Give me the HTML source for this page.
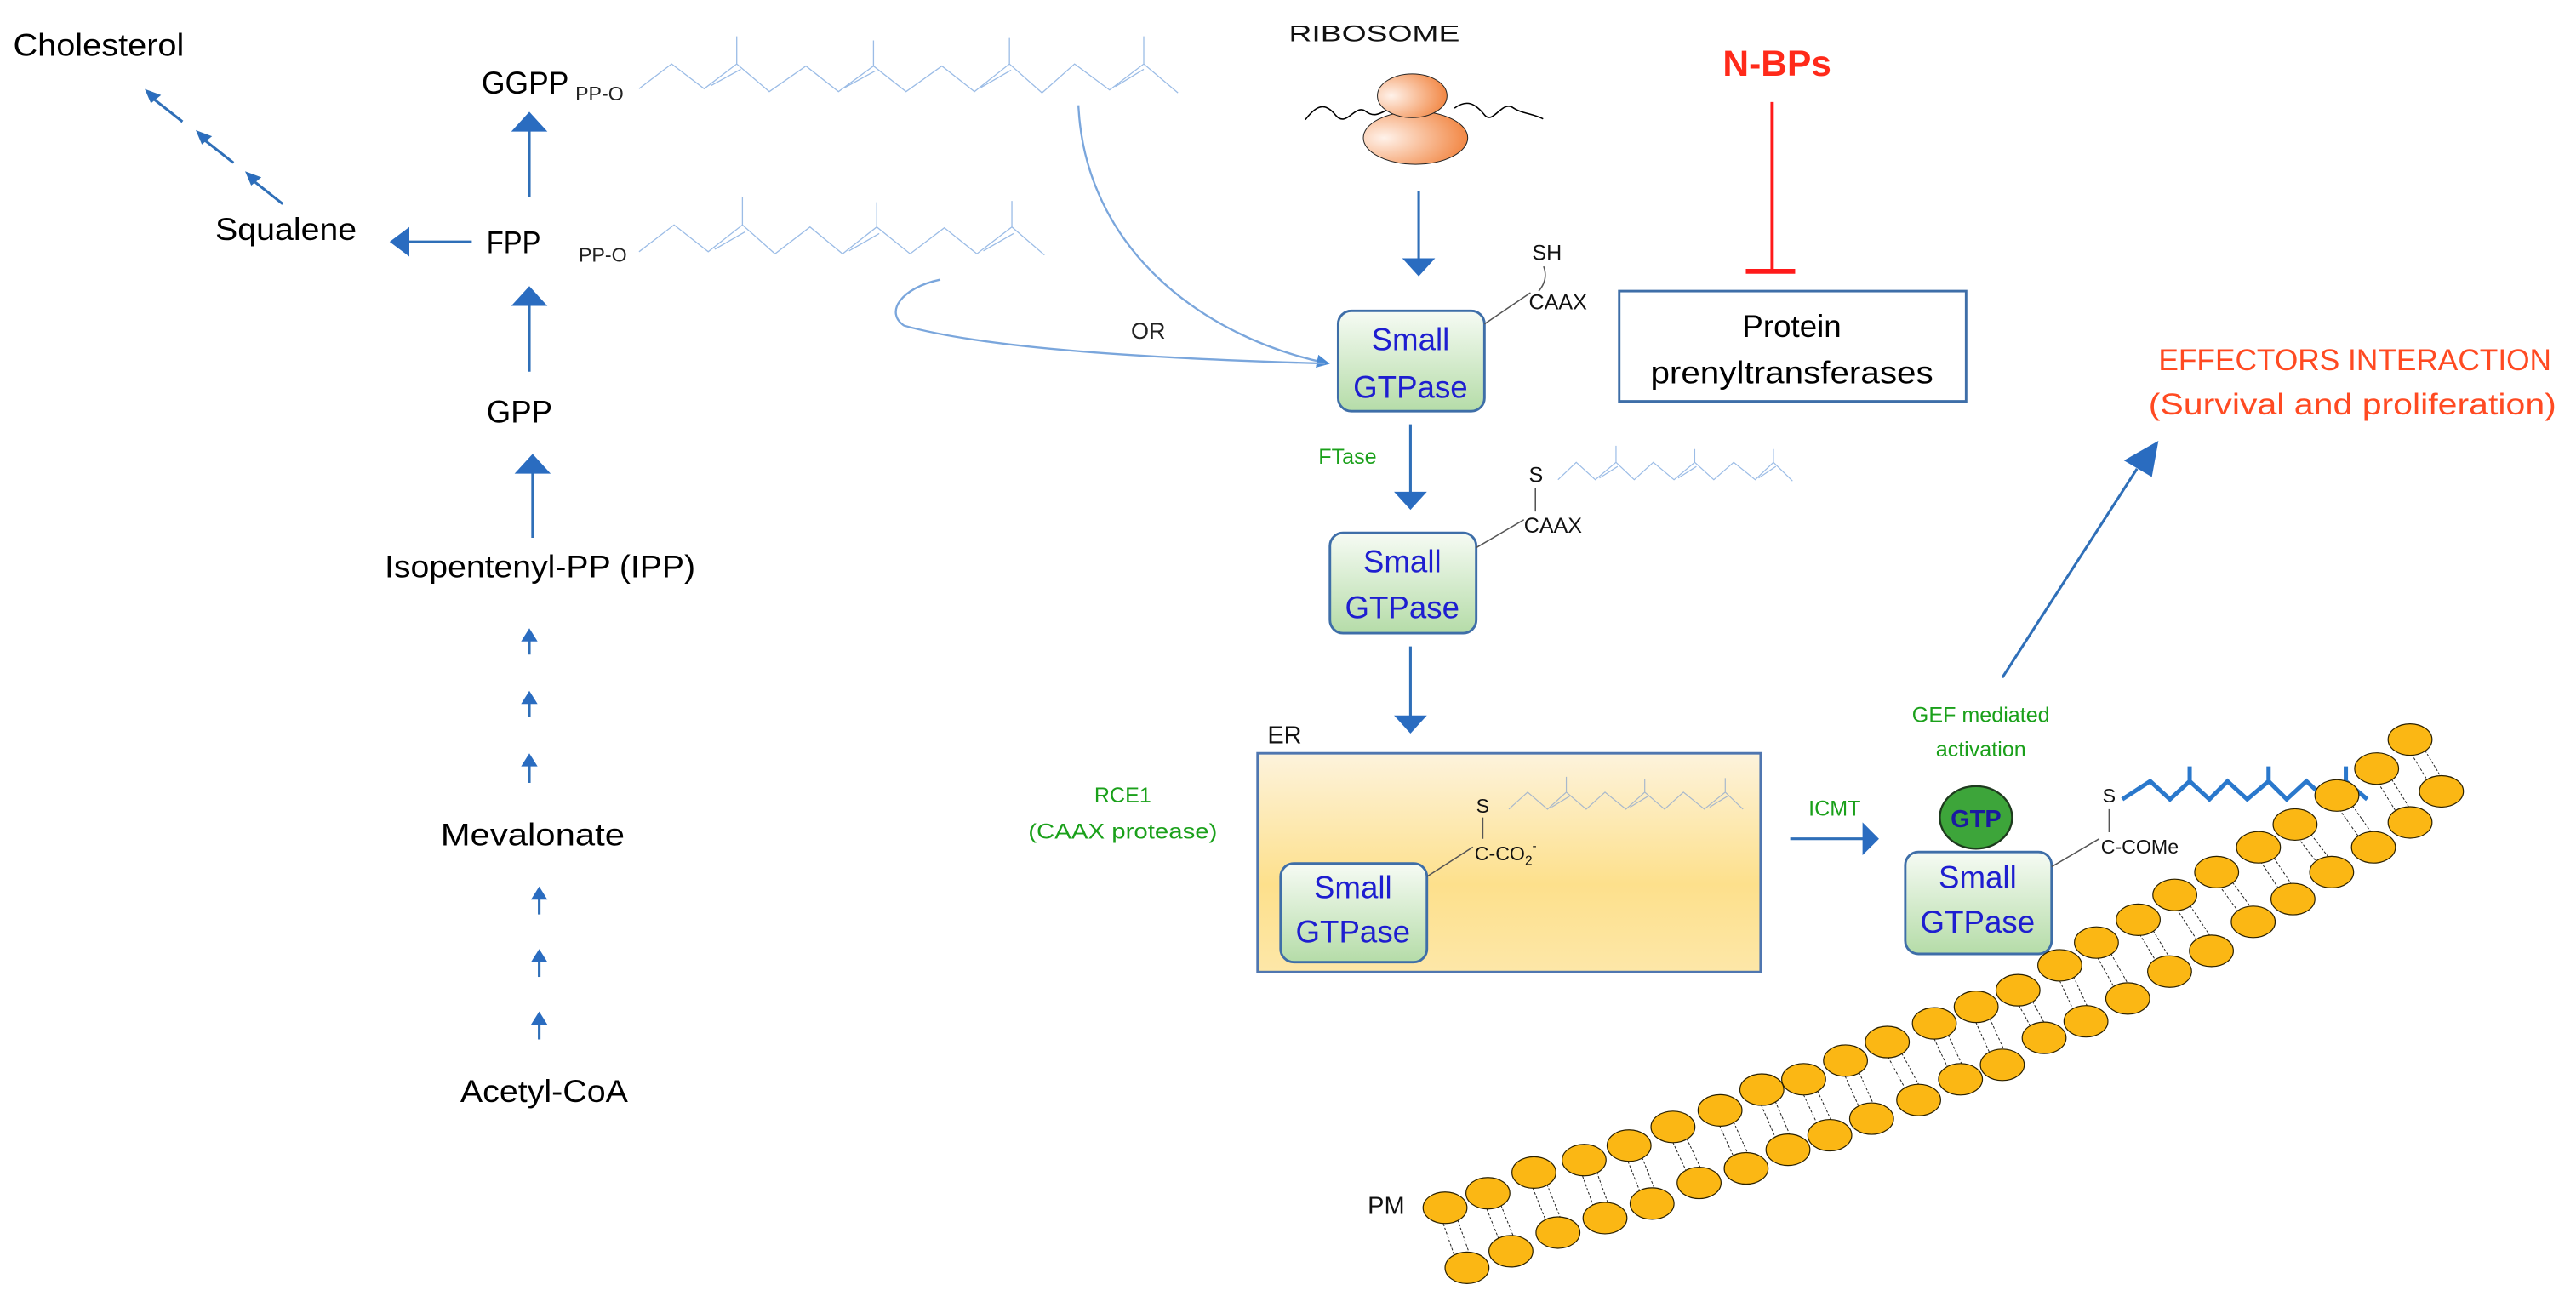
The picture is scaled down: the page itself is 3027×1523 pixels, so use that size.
<!DOCTYPE html>
<html><head><meta charset="utf-8"><style>
html,body{margin:0;padding:0;background:#fff;}
svg{display:block;}
text{font-family:"Liberation Sans Narrow","Liberation Sans",sans-serif;}
</style></head><body>
<svg width="3027" height="1523" viewBox="0 0 1567 788" preserveAspectRatio="none" xmlns="http://www.w3.org/2000/svg">
<defs>
<linearGradient id="gg" x1="0" y1="0" x2="0" y2="1"><stop offset="0" stop-color="#f6fbf4"/><stop offset="1" stop-color="#b5dca8"/></linearGradient>
<linearGradient id="er" x1="0" y1="0" x2="0" y2="1"><stop offset="0" stop-color="#fdf3dc"/><stop offset="0.6" stop-color="#fde08c"/><stop offset="1" stop-color="#fde7a8"/></linearGradient>
<radialGradient id="rib" cx="0.2" cy="0.5" r="0.9"><stop offset="0" stop-color="#fff2ea"/><stop offset="1" stop-color="#f07a30"/></radialGradient>
<marker id="ah" markerWidth="8" markerHeight="8" refX="7" refY="4" orient="auto" markerUnits="userSpaceOnUse"><path d="M0,0 L8,4 L0,8 Z" fill="#4a8ad4"/></marker>
</defs>

<!-- Left pathway -->
<g fill="#000" font-size="19">
<text x="8" y="34" textLength="104" lengthAdjust="spacingAndGlyphs">Cholesterol</text>
<text x="131" y="146" textLength="86" lengthAdjust="spacingAndGlyphs">Squalene</text>
<text x="296" y="154" textLength="33" lengthAdjust="spacingAndGlyphs">FPP</text>
<text x="293" y="57" textLength="53" lengthAdjust="spacingAndGlyphs">GGPP</text>
<text x="296" y="257" textLength="40" lengthAdjust="spacingAndGlyphs">GPP</text>
<text x="234" y="351" textLength="189" lengthAdjust="spacingAndGlyphs">Isopentenyl-PP (IPP)</text>
<text x="268" y="514" textLength="112" lengthAdjust="spacingAndGlyphs">Mevalonate</text>
<text x="280" y="670" textLength="102" lengthAdjust="spacingAndGlyphs">Acetyl-CoA</text>
</g>
<g font-size="12" fill="#222">
<text x="350" y="61">PP-O</text>
<text x="352" y="159">PP-O</text>
</g>
<g stroke="#2f6fb8" stroke-width="1.6" fill="#2a6cc0">
<line x1="111" y1="74" x2="92" y2="59"/><path d="M89,55 L97,58 L92,62 Z" stroke-width="1"/>
<line x1="142" y1="99" x2="123" y2="84"/><path d="M120,80 L128,83 L123,87 Z" stroke-width="1"/>
<line x1="172" y1="124" x2="153" y2="109"/><path d="M150,105 L158,108 L153,112 Z" stroke-width="1"/>
<line x1="287" y1="147" x2="248" y2="147"/><path d="M237,147 L249,138 L249,156 Z" stroke="none"/>
<line x1="322" y1="120" x2="322" y2="78"/><path d="M322,68 L311,80 L333,80 Z" stroke="none"/>
<line x1="322" y1="226" x2="322" y2="184"/><path d="M322,174 L311,186 L333,186 Z" stroke="none"/>
<line x1="324" y1="327" x2="324" y2="286"/><path d="M324,276 L313,288 L335,288 Z" stroke="none"/>
<line x1="322" y1="398" x2="322" y2="388"/><path d="M322,382 L317,390 L327,390 Z" stroke="none"/>
<line x1="322" y1="436" x2="322" y2="426"/><path d="M322,420 L317,428 L327,428 Z" stroke="none"/>
<line x1="322" y1="476" x2="322" y2="464"/><path d="M322,458 L317,466 L327,466 Z" stroke="none"/>
<line x1="328" y1="556" x2="328" y2="545"/><path d="M328,539 L323,547 L333,547 Z" stroke="none"/>
<line x1="328" y1="594" x2="328" y2="583"/><path d="M328,577 L323,585 L333,585 Z" stroke="none"/>
<line x1="328" y1="632" x2="328" y2="621"/><path d="M328,615 L323,623 L333,623 Z" stroke="none"/>
</g>

<!-- chains in zoom1 coords -->
<g transform="scale(0.4952,0.2509)" fill="none" stroke="#9bbce6">
<path vector-effect="non-scaling-stroke" stroke-width="1.3" d="M785,215 L825,155 L865,215 L905,155 L945,222 L990,160 L1030,222 L1073,160 L1113,222 L1157,160 L1197,222 L1240,155 L1280,225 L1320,155 L1363,218 L1405,155 L1447,225 M905,155 L905,88 M1073,160 L1073,98 M1240,155 L1240,92 M1405,155 L1405,88 M873,208 L910,168 M1038,212 L1075,172 M1205,212 L1242,170 M1370,210 L1405,168"/>
<path vector-effect="non-scaling-stroke" stroke-width="1.3" d="M785,610 L828,545 L870,610 L912,545 L952,615 L995,550 L1035,615 L1077,550 L1118,615 L1160,552 L1200,615 L1243,550 L1283,618 M912,545 L912,478 M1077,550 L1077,490 M1243,550 L1243,487 M878,604 L915,562 M1043,608 L1080,566 M1208,608 L1245,566"/>
</g>
<g fill="none" stroke="#7aa6dc" stroke-width="1.2">
<path d="M656,64 C660,150 730,205 808,221" marker-end="url(#ah)"/>
<path d="M572,170 C548,175 538,190 550,198 C600,212 700,218 806,221"/>
</g>
<text x="688" y="206" font-size="14" fill="#222">OR</text>

<!-- Ribosome -->
<text x="784" y="25" font-size="14" fill="#111" textLength="104" lengthAdjust="spacingAndGlyphs">RIBOSOME</text>
<g transform="translate(776.4,0) scale(0.504,0.251)">
<path vector-effect="non-scaling-stroke" stroke="#000" stroke-width="1.6" fill="none" d="M35,290 C50,250 60,250 72,280 C85,310 95,250 108,270 C118,285 125,275 135,265 M215,262 C230,240 240,250 252,280 C262,300 272,245 285,260 C295,275 310,275 322,288"/>
<ellipse vector-effect="non-scaling-stroke" cx="168" cy="334" rx="63" ry="64" fill="url(#rib)" stroke="#222" stroke-width="1"/>
<ellipse vector-effect="non-scaling-stroke" cx="164" cy="232" rx="42" ry="53" fill="url(#rib)" stroke="#222" stroke-width="1"/>
</g>
<g stroke="#2f6fb8" stroke-width="1.6" fill="#2a6cc0">
<line x1="863" y1="116" x2="863" y2="158"/><path d="M863,168 L853,157 L873,157 Z" stroke="none"/>
<line x1="858" y1="258" x2="858" y2="300"/><path d="M858,310 L848,299 L868,299 Z" stroke="none"/>
<line x1="858" y1="393" x2="858" y2="436"/><path d="M858,446 L848,435 L868,435 Z" stroke="none"/>
<line x1="1089" y1="510" x2="1134" y2="510"/><path d="M1143,510 L1133,500 L1133,520 Z" stroke="none"/>
<line x1="1218" y1="412" x2="1300" y2="285"/><path d="M1313,268 L1292,280 L1309,290 Z" stroke="none"/>
</g>

<!-- N-BPs -->
<text x="1048" y="46" font-size="22" font-weight="bold" fill="#ff2a1a" textLength="66" lengthAdjust="spacingAndGlyphs">N-BPs</text>
<line x1="1078" y1="62" x2="1078" y2="165" stroke="#ff1a1a" stroke-width="2"/>
<line x1="1062" y1="165" x2="1092" y2="165" stroke="#ff1a1a" stroke-width="3"/>
<rect x="985" y="177" width="211" height="67" fill="#fff" stroke="#3e6ea8" stroke-width="1.5"/>
<text x="1090" y="205" font-size="19" text-anchor="middle" fill="#000">Protein</text>
<text x="1090" y="233" font-size="19" text-anchor="middle" fill="#000" textLength="172" lengthAdjust="spacingAndGlyphs">prenyltransferases</text>

<text x="1313" y="225" font-size="18" fill="#ff4a22" textLength="239" lengthAdjust="spacingAndGlyphs">EFFECTORS INTERACTION</text>
<text x="1307" y="252" font-size="18" fill="#ff4a22" textLength="248" lengthAdjust="spacingAndGlyphs">(Survival and proliferation)</text>

<!-- GTPase 1 -->
<rect x="814" y="189" width="89" height="61" rx="8" fill="url(#gg)" stroke="#3e6ea8" stroke-width="1.5"/>
<text x="858" y="213" font-size="19" text-anchor="middle" fill="#1e1ed0">Small</text>
<text x="858" y="242" font-size="19" text-anchor="middle" fill="#1e1ed0">GTPase</text>
<text x="932" y="158" font-size="13" fill="#111">SH</text>
<text x="930" y="188" font-size="13" fill="#111">CAAX</text>
<path d="M903,197 L931,178 M939,162 Q942,170 936,177" stroke="#555" stroke-width="0.8" fill="none"/>

<text x="802" y="282" font-size="13" fill="#1aa01a">FTase</text>
<!-- GTPase 2 -->
<rect x="809" y="324" width="89" height="61" rx="8" fill="url(#gg)" stroke="#3e6ea8" stroke-width="1.5"/>
<text x="853" y="348" font-size="19" text-anchor="middle" fill="#1e1ed0">Small</text>
<text x="853" y="376" font-size="19" text-anchor="middle" fill="#1e1ed0">GTPase</text>
<text x="930" y="293" font-size="13" fill="#111">S</text>
<text x="927" y="324" font-size="13" fill="#111">CAAX</text>
<path d="M898,333 L927,316 M934,297 L934,311" stroke="#555" stroke-width="0.8" fill="none"/>
<g transform="translate(776.4,0) scale(0.504,0.251)" fill="none" stroke="#9bbce6">
<path vector-effect="non-scaling-stroke" stroke-width="1.2" d="M340,1162 L362,1120 L385,1162 L410,1120 L432,1162 L455,1120 L480,1162 L505,1120 L528,1162 L552,1120 L578,1162 L600,1120 L623,1165 M410,1120 L410,1080 M505,1120 L505,1088 M600,1120 L600,1088 M390,1158 L412,1130 M485,1158 L507,1130 M582,1158 L603,1130"/>
</g>

<!-- ER -->
<text x="771" y="452" font-size="15" fill="#111">ER</text>
<rect x="765" y="458" width="306" height="133" fill="url(#er)" stroke="#4f76b0" stroke-width="1.5"/>
<rect x="779" y="525" width="89" height="60" rx="8" fill="url(#gg)" stroke="#3e6ea8" stroke-width="1.5"/>
<text x="823" y="546" font-size="19" text-anchor="middle" fill="#1e1ed0">Small</text>
<text x="823" y="573" font-size="19" text-anchor="middle" fill="#1e1ed0">GTPase</text>
<text x="898" y="494" font-size="12" fill="#111">S</text>
<text x="897" y="523" font-size="12" fill="#111">C-CO<tspan font-size="8" dy="3">2</tspan><tspan font-size="8" dy="-9">-</tspan></text>
<path d="M868,533 L896,515 M902,497 L902,510" stroke="#555" stroke-width="0.8" fill="none"/>
<g transform="translate(569.3,393) scale(0.636,0.2519)" fill="none" stroke="#a8b8cc">
<path vector-effect="non-scaling-stroke" stroke-width="1.2" d="M548,393 L566,352 L585,393 L603,352 L622,393 L640,352 L660,393 L678,352 L697,393 L715,352 L735,393 L755,352 L772,393 M603,352 L603,315 M678,352 L678,320 M755,352 L755,318 M589,388 L606,362 M664,388 L681,362 M740,388 L757,362"/>
</g>
<text x="683" y="488" font-size="13" fill="#1aa01a" text-anchor="middle">RCE1</text>
<text x="683" y="510" font-size="13" fill="#1aa01a" text-anchor="middle" textLength="115" lengthAdjust="spacingAndGlyphs">(CAAX protease)</text>
<text x="1116" y="496" font-size="13" fill="#1aa01a" text-anchor="middle">ICMT</text>
<text x="1205" y="439" font-size="13" fill="#1aa01a" text-anchor="middle">GEF mediated</text>
<text x="1205" y="460" font-size="13" fill="#1aa01a" text-anchor="middle">activation</text>

<!-- blue thick chain -->
<path d="M1291,486 L1308,475 L1320,486 L1332,475 L1344,486 L1355,475 L1367,486 L1380,475 L1391,486 L1403,475 L1415,486 L1427,475 L1440,486 M1332,475 L1332,466 M1380,475 L1380,466 M1427,475 L1427,466" fill="none" stroke="#2a78cc" stroke-width="2.6"/>

<!-- GTPase 4 -->
<rect x="1159" y="518" width="89" height="62" rx="8" fill="url(#gg)" stroke="#3e6ea8" stroke-width="1.5"/>
<text x="1203" y="540" font-size="19" text-anchor="middle" fill="#1e1ed0">Small</text>
<text x="1203" y="567" font-size="19" text-anchor="middle" fill="#1e1ed0">GTPase</text>
<ellipse cx="1202" cy="497" rx="22" ry="19" fill="#3da53a" stroke="#1e3a1e" stroke-width="1.2"/>
<text x="1202" y="503" font-size="15" font-weight="bold" fill="#1a1aa0" text-anchor="middle">GTP</text>
<text x="1279" y="488" font-size="12" fill="#111">S</text>
<text x="1278" y="519" font-size="12" fill="#111">C-COMe</text>
<path d="M1248,527 L1277,510 M1283,492 L1283,506" stroke="#555" stroke-width="0.8" fill="none"/>

<!-- membrane -->
<text x="832" y="738" font-size="15" fill="#111">PM</text>
<g transform="translate(569.3,393) scale(0.636,0.2519)">
<g stroke="#222" stroke-width="1" stroke-dasharray="3,2" vector-effect="non-scaling-stroke" fill="none">
<path vector-effect="non-scaling-stroke" d="M480,1355 L500,1500 M495,1355 L515,1500 M521,1320 L543,1460 M536,1320 L558,1460 M565,1270 L588,1415 M580,1270 L603,1415 M613,1240 L633,1380 M628,1240 L648,1380 M656,1205 L678,1345 M671,1205 L693,1345 M698,1160 L723,1295 M713,1160 L738,1295 M743,1120 L768,1260 M758,1120 L783,1260 M783,1070 L808,1215 M798,1070 L823,1215 M823,1045 L848,1180 M838,1045 L863,1180 M863,1000 L888,1140 M878,1000 L903,1140 M903,955 L933,1095 M918,955 L948,1095 M948,910 L973,1045 M963,910 L988,1045 M988,870 L1013,1010 M1003,870 L1028,1010 M1028,830 L1053,945 M1043,830 L1068,945 M1068,770 L1093,905 M1083,770 L1108,905 M1103,715 L1133,850 M1118,715 L1148,850 M1143,660 L1173,785 M1158,660 L1188,785 M1178,600 L1213,735 M1193,600 L1228,735 M1218,545 L1253,665 M1233,545 L1268,665 M1258,485 L1291,610 M1273,485 L1306,610 M1293,430 L1328,545 M1308,430 L1343,545 M1333,360 L1368,485 M1348,360 L1383,485 M1371,295 L1403,425 M1386,295 L1418,425 M1403,225 L1433,350 M1418,225 L1448,350"/>
</g>
<g fill="#fbb714" stroke="#2a2000" stroke-width="1.2">
<ellipse vector-effect="non-scaling-stroke" cx="487" cy="1355" rx="21" ry="38"/><ellipse vector-effect="non-scaling-stroke" cx="528" cy="1320" rx="21" ry="38"/><ellipse vector-effect="non-scaling-stroke" cx="572" cy="1270" rx="21" ry="38"/><ellipse vector-effect="non-scaling-stroke" cx="620" cy="1240" rx="21" ry="38"/><ellipse vector-effect="non-scaling-stroke" cx="663" cy="1205" rx="21" ry="38"/><ellipse vector-effect="non-scaling-stroke" cx="705" cy="1160" rx="21" ry="38"/><ellipse vector-effect="non-scaling-stroke" cx="750" cy="1120" rx="21" ry="38"/><ellipse vector-effect="non-scaling-stroke" cx="790" cy="1070" rx="21" ry="38"/><ellipse vector-effect="non-scaling-stroke" cx="830" cy="1045" rx="21" ry="38"/><ellipse vector-effect="non-scaling-stroke" cx="870" cy="1000" rx="21" ry="38"/><ellipse vector-effect="non-scaling-stroke" cx="910" cy="955" rx="21" ry="38"/><ellipse vector-effect="non-scaling-stroke" cx="955" cy="910" rx="21" ry="38"/><ellipse vector-effect="non-scaling-stroke" cx="995" cy="870" rx="21" ry="38"/><ellipse vector-effect="non-scaling-stroke" cx="1035" cy="830" rx="21" ry="38"/><ellipse vector-effect="non-scaling-stroke" cx="1075" cy="770" rx="21" ry="38"/><ellipse vector-effect="non-scaling-stroke" cx="1110" cy="715" rx="21" ry="38"/><ellipse vector-effect="non-scaling-stroke" cx="1150" cy="660" rx="21" ry="38"/><ellipse vector-effect="non-scaling-stroke" cx="1185" cy="600" rx="21" ry="38"/><ellipse vector-effect="non-scaling-stroke" cx="1225" cy="545" rx="21" ry="38"/><ellipse vector-effect="non-scaling-stroke" cx="1265" cy="485" rx="21" ry="38"/><ellipse vector-effect="non-scaling-stroke" cx="1300" cy="430" rx="21" ry="38"/><ellipse vector-effect="non-scaling-stroke" cx="1340" cy="360" rx="21" ry="38"/><ellipse vector-effect="non-scaling-stroke" cx="1378" cy="295" rx="21" ry="38"/><ellipse vector-effect="non-scaling-stroke" cx="1410" cy="225" rx="21" ry="38"/>
<ellipse vector-effect="non-scaling-stroke" cx="508" cy="1500" rx="21" ry="38"/><ellipse vector-effect="non-scaling-stroke" cx="550" cy="1460" rx="21" ry="38"/><ellipse vector-effect="non-scaling-stroke" cx="595" cy="1415" rx="21" ry="38"/><ellipse vector-effect="non-scaling-stroke" cx="640" cy="1380" rx="21" ry="38"/><ellipse vector-effect="non-scaling-stroke" cx="685" cy="1345" rx="21" ry="38"/><ellipse vector-effect="non-scaling-stroke" cx="730" cy="1295" rx="21" ry="38"/><ellipse vector-effect="non-scaling-stroke" cx="775" cy="1260" rx="21" ry="38"/><ellipse vector-effect="non-scaling-stroke" cx="815" cy="1215" rx="21" ry="38"/><ellipse vector-effect="non-scaling-stroke" cx="855" cy="1180" rx="21" ry="38"/><ellipse vector-effect="non-scaling-stroke" cx="895" cy="1140" rx="21" ry="38"/><ellipse vector-effect="non-scaling-stroke" cx="940" cy="1095" rx="21" ry="38"/><ellipse vector-effect="non-scaling-stroke" cx="980" cy="1045" rx="21" ry="38"/><ellipse vector-effect="non-scaling-stroke" cx="1020" cy="1010" rx="21" ry="38"/><ellipse vector-effect="non-scaling-stroke" cx="1060" cy="945" rx="21" ry="38"/><ellipse vector-effect="non-scaling-stroke" cx="1100" cy="905" rx="21" ry="38"/><ellipse vector-effect="non-scaling-stroke" cx="1140" cy="850" rx="21" ry="38"/><ellipse vector-effect="non-scaling-stroke" cx="1180" cy="785" rx="21" ry="38"/><ellipse vector-effect="non-scaling-stroke" cx="1220" cy="735" rx="21" ry="38"/><ellipse vector-effect="non-scaling-stroke" cx="1260" cy="665" rx="21" ry="38"/><ellipse vector-effect="non-scaling-stroke" cx="1298" cy="610" rx="21" ry="38"/><ellipse vector-effect="non-scaling-stroke" cx="1335" cy="545" rx="21" ry="38"/><ellipse vector-effect="non-scaling-stroke" cx="1375" cy="485" rx="21" ry="38"/><ellipse vector-effect="non-scaling-stroke" cx="1410" cy="425" rx="21" ry="38"/><ellipse vector-effect="non-scaling-stroke" cx="1440" cy="350" rx="21" ry="38"/>
</g>
</g>
</svg>
</body></html>
